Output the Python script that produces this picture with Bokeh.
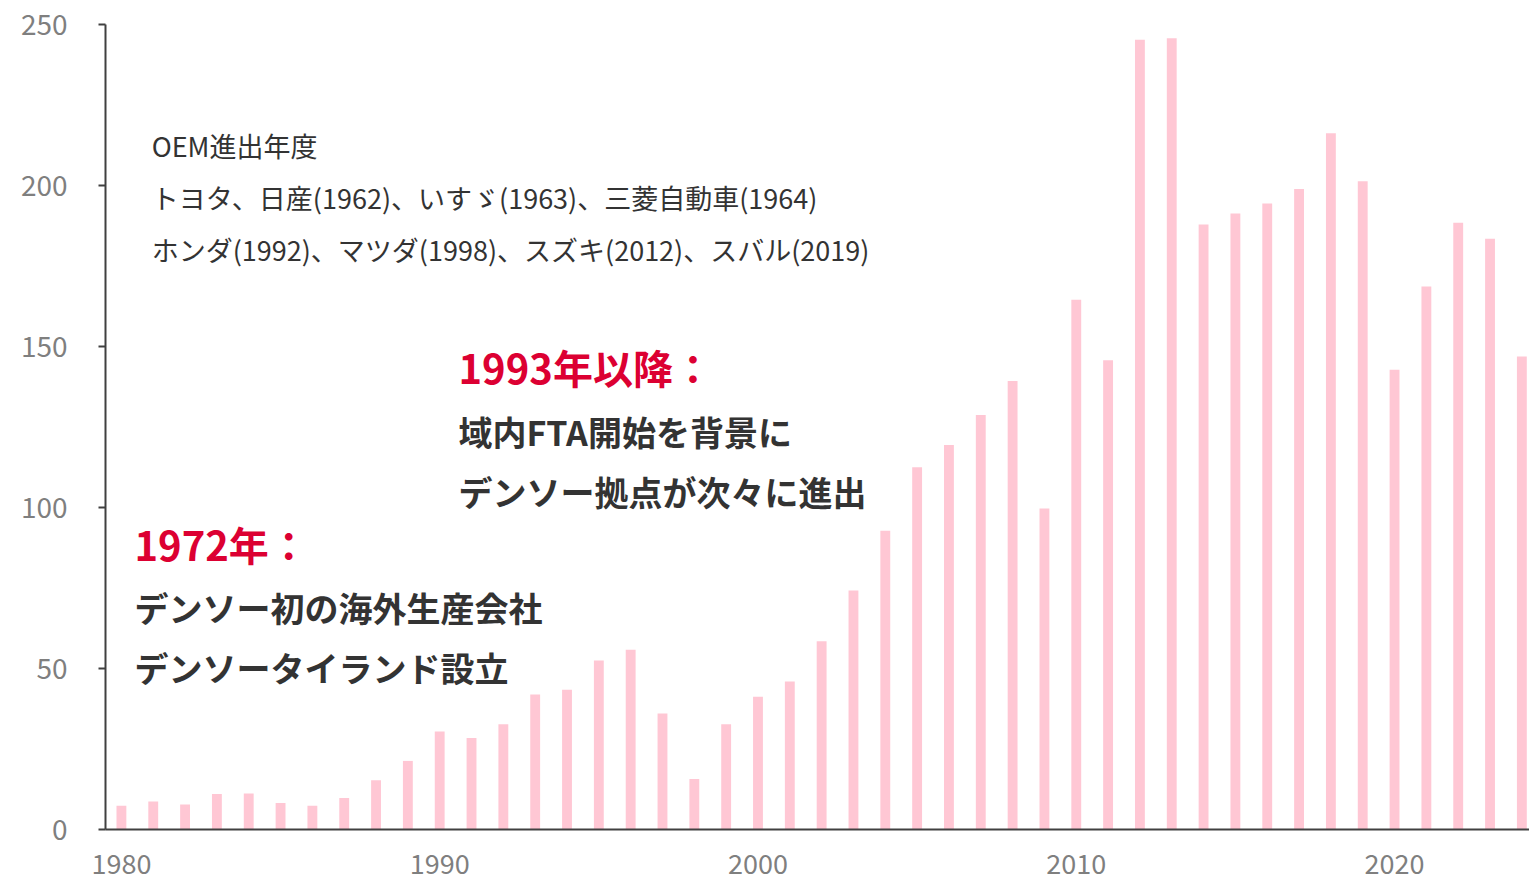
from bokeh.plotting import figure
from bokeh.models import Range1d, Label, FixedTicker
from bokeh.embed import file_html
from bokeh.resources import INLINE

years = list(range(1980, 2025))
counts = [7.4, 8.7, 7.8, 11.0, 11.2, 8.2, 7.4, 9.8, 15.3, 21.3,
          30.4, 28.4, 32.7, 41.9, 43.4, 52.5, 55.8, 36.0, 15.7, 32.7,
          41.2, 46.0, 58.5, 74.2, 92.8, 112.5, 119.4, 128.7, 139.3, 99.7,
          164.5, 145.7, 245.3, 245.7, 187.9, 191.3, 194.4, 198.9, 216.2, 201.3,
          142.8, 168.6, 188.4, 183.5, 146.9]
y_ticks = [0, 50, 100, 150, 200, 250]
x_ticks = [1980, 1990, 2000, 2010, 2020]

oem_lines = ["OEM進出年度",
             "トヨタ、日産(1962)、いすゞ(1963)、三菱自動車(1964)",
             "ホンダ(1992)、マツダ(1998)、スズキ(2012)、スバル(2019)"]
note93_head = "1993年以降："
note93_lines = ["域内FTA開始を背景に", "デンソー拠点が次々に進出"]
note72_head = "1972年："
note72_lines = ["デンソー初の海外生産会社", "デンソータイランド設立"]

FONT = "Noto Sans CJK JP"
BAR = "#FFC7D4"
RED = "#DC0032"
DARK = "#333333"
GREY = "#7F7F7F"

p = figure(width=1529, height=885, output_backend="svg", toolbar_location=None,
           x_range=Range1d(1979.5, 2024.24), y_range=Range1d(0, 250),
           min_border_left=105, min_border_right=0, min_border_top=24,
           min_border_bottom=56)
p.vbar(x=years, top=counts, width=0.31, fill_color=BAR, line_color=None)

p.outline_line_color = None
p.grid.visible = False
p.background_fill_color = "white"
p.border_fill_color = "white"

p.yaxis.ticker = FixedTicker(ticks=y_ticks)
p.xaxis.ticker = FixedTicker(ticks=x_ticks)
for ax in (p.xaxis[0], p.yaxis[0]):
    ax.axis_line_color = "#404040"
    ax.axis_line_width = 2
    ax.major_label_text_font = FONT
    ax.major_label_text_color = GREY
    ax.major_label_text_font_size = "28px"
    ax.minor_tick_line_color = None
p.xaxis.major_label_text_font_size = "27px"
p.yaxis.major_tick_line_color = "#404040"
p.yaxis.major_tick_line_width = 2
p.yaxis.major_tick_out = 7
p.yaxis.major_tick_in = 0
p.yaxis.major_label_standoff = 31
p.xaxis.major_tick_line_color = None
p.xaxis.major_tick_out = 0
p.xaxis.major_tick_in = 0
p.xaxis.major_label_standoff = 24

def add(txt, x, y, size, color, bold=False):
    p.add_layout(Label(x=x, y=y, text=txt, text_font=FONT, text_font_size=size,
                       text_color=color, text_baseline="middle", text_align="left",
                       text_font_style="bold" if bold else "normal"))

for t, yv in zip(oem_lines, [212.4, 196.3, 180.1]):
    add(t, 1980.95, yv, "27px", DARK)

add(note93_head, 1990.59, 143.5, "40px", RED, True)
for t, yv in zip(note93_lines, [123.6, 105.0]):
    add(t, 1990.59, yv, "34px", DARK, True)

add(note72_head, 1980.41, 88.8, "40px", RED, True)
for t, yv in zip(note72_lines, [68.9, 50.3]):
    add(t, 1980.41, yv, "34px", DARK, True)

open("out.html", "w").write(file_html(p, INLINE))
